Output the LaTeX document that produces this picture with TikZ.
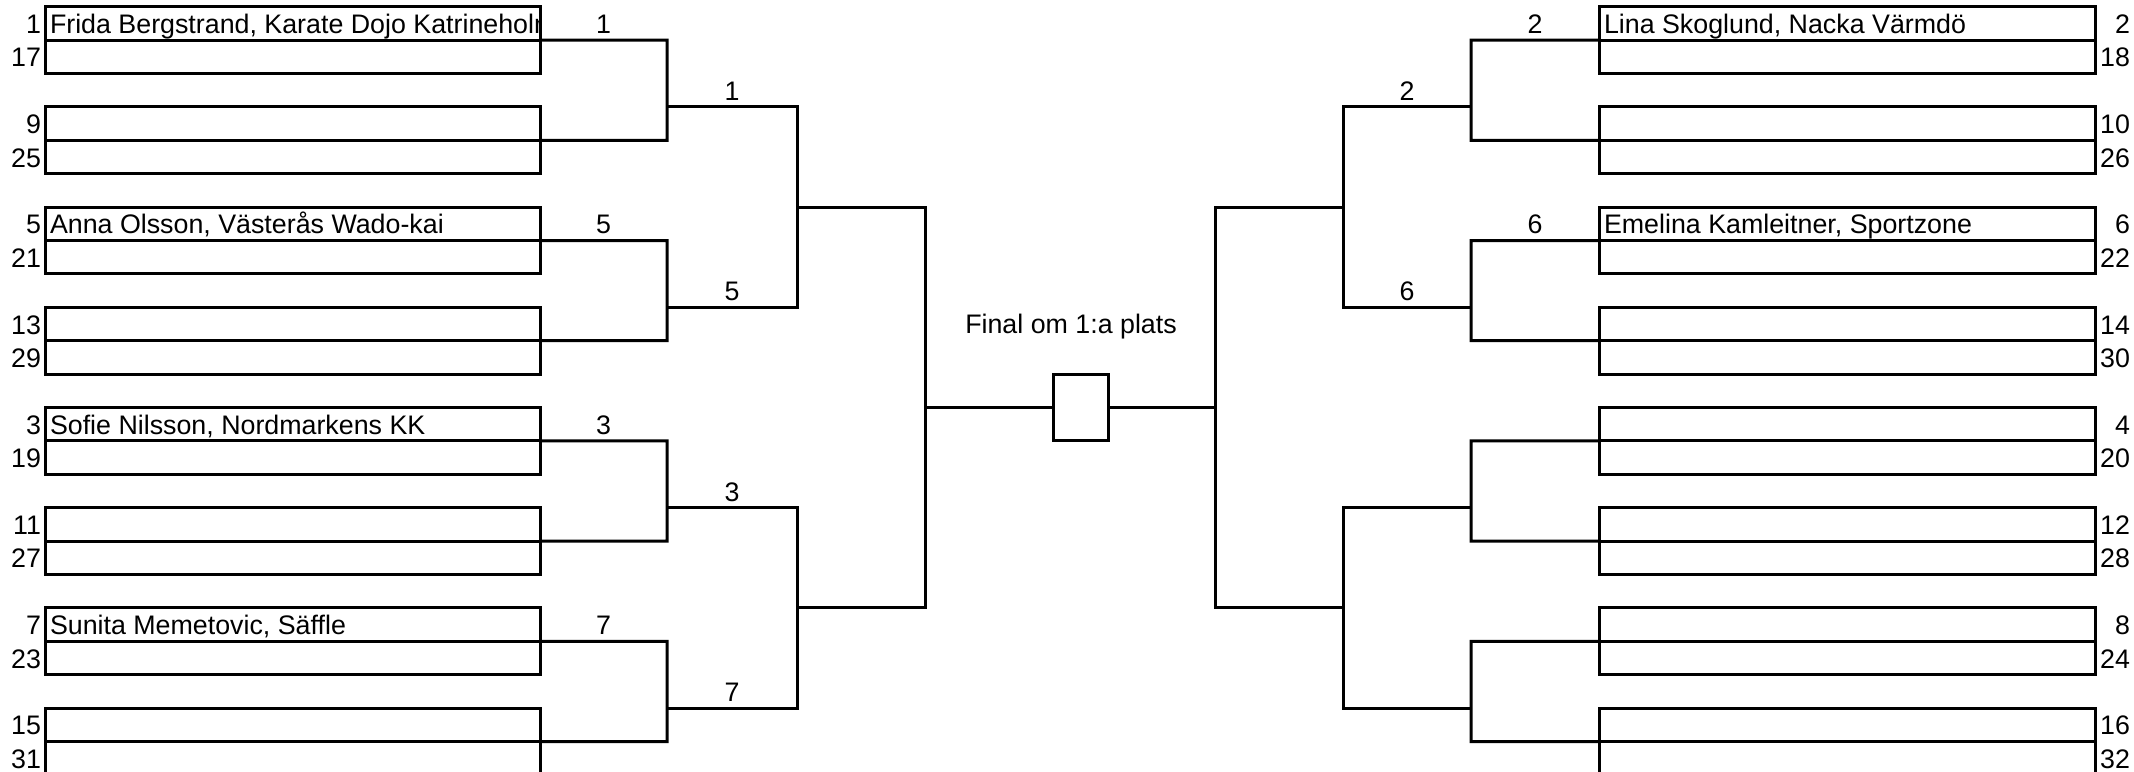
\documentclass[tikz,border=0pt]{standalone}
\usepackage{fontspec}
\setmainfont{Liberation Sans}
\begin{document}
\begin{tikzpicture}[x=0.5pt,y=-16.7pt,line width=1.5pt,line join=miter,
  cellL/.style={draw,rectangle,line width=1.5pt,minimum width=247.5pt,minimum height=16.7pt,inner sep=0pt,outer sep=0pt,anchor=north west},
  cellR/.style={cellL,minimum width=248pt},
  txt/.style={font=\fontsize{13.4pt}{15pt}\selectfont,inner sep=0pt,outer sep=0pt},
  lnum/.style={txt,anchor=base east},
  rnum/.style={txt,anchor=base east},
  ntxt/.style={txt,anchor=base west},
  wtxt/.style={txt,anchor=base}]
\useasboundingbox (0,-0.2006) rectangle (2134,22.883);
\clip (0,-0.2006) rectangle (2134,22.883);

% left cells and seed numbers
\foreach \k/\a/\b in {0/1/17,1/9/25,2/5/21,3/13/29,4/3/19,5/11/27,6/7/23,7/15/31}{
  \node[cellL] (Lt\k) at (45,{3*\k}) {};
  \node[cellL] (Lb\k) at (45,{3*\k+1}) {};
  \node[lnum] (lna\k) at (41,{3*\k+0.8}) {\a};
  \node[lnum] (lnb\k) at (41,{3*\k+1.8}) {\b};
}
% right cells and seed numbers
\foreach \k/\a/\b in {0/2/18,1/10/26,2/6/22,3/14/30,4/4/20,5/12/28,6/8/24,7/16/32}{
  \node[cellR] (Rt\k) at (1599,{3*\k}) {};
  \node[cellR] (Rb\k) at (1599,{3*\k+1}) {};
  \node[rnum] (rna\k) at (2130,{3*\k+0.8}) {\a};
  \node[rnum] (rnb\k) at (2130,{3*\k+1.8}) {\b};
}

% names
\begin{scope}
  \clip (45,0) rectangle (538.5,1);
  \node[ntxt] (nameL0) at (50,0.8) {Frida Bergstrand, Karate Dojo Katrineholm};
\end{scope}
\node[ntxt] (nameL2) at (50,6.8) {Anna Olsson, Västerås Wado-kai};
\node[ntxt] (nameL4) at (50,12.8) {Sofie Nilsson, Nordmarkens KK};
\node[ntxt] (nameL6) at (50,18.8) {Sunita Memetovic, Säffle};
\node[ntxt] (nameR0) at (1604,0.8) {Lina Skoglund, Nacka Värmdö};
\node[ntxt] (nameR2) at (1604,6.8) {Emelina Kamleitner, Sportzone};

% left round 1 brackets
\foreach \j/\a/\b in {0/0/1,1/2/3,2/4/5,3/6/7}{
  \draw (Lt\a.south east) -- (667,{6*\j+1}) -- (667,{6*\j+4}) -- (Lt\b.south east);
}
% left round 2 / 3
\foreach \m in {0,1}{
  \coordinate (LA\m) at (667,{12*\m+3});
  \coordinate (LB\m) at (667,{12*\m+9});
  \draw (LA\m) -- (797,{12*\m+3}) -- (797,{12*\m+9}) -- (LB\m);
  \coordinate (LC\m) at (797,{12*\m+6});
}
\draw (LC0) -- (925,6) -- (925,18) -- (LC1);
\coordinate (LD) at (925,12);

% right round 1 brackets
\foreach \j/\a/\b in {0/0/1,1/2/3,2/4/5,3/6/7}{
  \draw (Rt\a.south west) -- (1471,{6*\j+1}) -- (1471,{6*\j+4}) -- (Rt\b.south west);
}
\foreach \m in {0,1}{
  \coordinate (RA\m) at (1471,{12*\m+3});
  \coordinate (RB\m) at (1471,{12*\m+9});
  \draw (RA\m) -- (1343,{12*\m+3}) -- (1343,{12*\m+9}) -- (RB\m);
  \coordinate (RC\m) at (1343,{12*\m+6});
}
\draw (RC0) -- (1215,6) -- (1215,18) -- (RC1);
\coordinate (RD) at (1215,12);

% final
\node[draw,rectangle,line width=1.5pt,minimum width=27.5pt,minimum height=33.4pt,inner sep=0pt,outer sep=0pt] (final) at (1080.5,12) {};
\draw (LD) -- (final.west);
\draw (final.east) -- (RD);
\node[wtxt] (finaltxt) at (1071,9.78) {Final om 1:a plats};

% winner labels
\node[wtxt] (w1a) at (603.5,0.8) {1};
\node[wtxt] (w5a) at (603.5,6.8) {5};
\node[wtxt] (w3a) at (603.5,12.8) {3};
\node[wtxt] (w7a) at (603.5,18.8) {7};
\node[wtxt] (w1b) at (732,2.8) {1};
\node[wtxt] (w5b) at (732,8.8) {5};
\node[wtxt] (w3b) at (732,14.8) {3};
\node[wtxt] (w7b) at (732,20.8) {7};
\node[wtxt] (w2a) at (1535,0.8) {2};
\node[wtxt] (w6a) at (1535,6.8) {6};
\node[wtxt] (w2b) at (1407,2.8) {2};
\node[wtxt] (w6b) at (1407,8.8) {6};
\end{tikzpicture}
\end{document}
